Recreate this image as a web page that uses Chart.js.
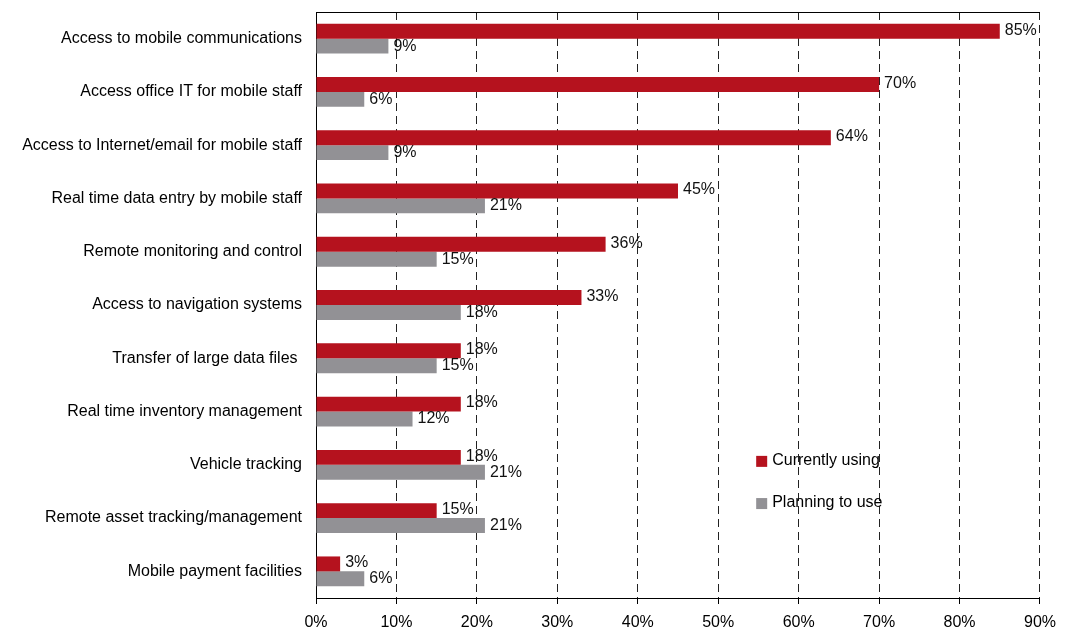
<!DOCTYPE html>
<html>
<head>
<meta charset="utf-8">
<script src="https://cdn.jsdelivr.net/npm/chart.js@4.4.0/dist/chart.umd.min.js"></script>
<style>
  html, body { margin: 0; padding: 0; background: #fff; }
  canvas { display: block; }
</style>
</head>
<body>
<canvas id="myChart" width="1065" height="632"></canvas>
<script>
// Categories, top to bottom
const categories = [
    'Access to mobile communications',
    'Access office IT for mobile staff',
    'Access to Internet/email for mobile staff',
    'Real time data entry by mobile staff',
    'Remote monitoring and control',
    'Access to navigation systems',
    'Transfer of large data files ',
    'Real time inventory management',
    'Vehicle tracking',
    'Remote asset tracking/management',
    'Mobile payment facilities'
];

// Percent of respondents
const currentlyUsing = [85, 70, 64, 45, 36, 33, 18, 18, 18, 15, 3];
const planningToUse = [9, 6, 9, 21, 15, 18, 15, 12, 21, 21, 6];

// X axis ticks
const xTicks = [0, 10, 20, 30, 40, 50, 60, 70, 80, 90];

const RED = '#B5121E';
const GREY = '#929195';
const FONT = 'Liberation Sans, Arial, sans-serif';
const SIZE = 16;

Chart.defaults.font.family = FONT;
Chart.defaults.font.size = SIZE;
Chart.defaults.color = '#000';

// Value labels at the end of each bar
const valueLabels = {
    id: 'valueLabels',
    afterDatasetsDraw(chart) {
        const ctx = chart.ctx;
        ctx.save();
        ctx.font = SIZE + 'px ' + FONT;
        ctx.fillStyle = '#111';
        ctx.textAlign = 'left';
        ctx.textBaseline = 'middle';
        chart.data.datasets.forEach((ds, i) => {
            chart.getDatasetMeta(i).data.forEach((bar, j) => {
                ctx.fillText(ds.data[j] + '%', bar.x + 5, bar.y - (i === 0 ? 1 : 0));
            });
        });
        ctx.restore();
    }
};

// Top frame line and the legend inside the plot
const frameAndLegend = {
    id: 'frameAndLegend',
    afterDraw(chart) {
        const ctx = chart.ctx;
        const a = chart.chartArea;
        ctx.save();
        ctx.strokeStyle = '#000';
        ctx.lineWidth = 1;
        ctx.beginPath();
        ctx.moveTo(a.left, Math.round(a.top) + 0.5);
        ctx.lineTo(a.right, Math.round(a.top) + 0.5);
        ctx.stroke();

        const lx = a.left + (a.right - a.left) * 0.608;
        const rows = [
            { text: 'Currently using', color: RED, y: a.top + (a.bottom - a.top) * 0.766 },
            { text: 'Planning to use', color: GREY, y: a.top + (a.bottom - a.top) * 0.838 }
        ];
        ctx.font = SIZE + 'px ' + FONT;
        ctx.textBaseline = 'middle';
        ctx.textAlign = 'left';
        rows.forEach(r => {
            ctx.fillStyle = r.color;
            ctx.fillRect(lx, r.y - 5, 11, 11);
            ctx.fillStyle = '#000';
            ctx.fillText(r.text, lx + 16, r.y);
        });
        ctx.restore();
    }
};

const ctx = document.getElementById('myChart').getContext('2d');

const myChart = new Chart(ctx, {
    type: 'bar',
    data: {
        labels: categories,
        datasets: [{
            label: 'Currently using',
            data: currentlyUsing,
            backgroundColor: RED,
            categoryPercentage: 0.56,
            barPercentage: 1.0
        }, {
            label: 'Planning to use',
            data: planningToUse,
            backgroundColor: GREY,
            categoryPercentage: 0.56,
            barPercentage: 1.0
        }]
    },
    options: {
        indexAxis: 'y',
        responsive: false,
        animation: false,
        layout: { padding: { top: 12, right: 24, left: 0, bottom: 0 } },
        plugins: {
            legend: { display: false },
            tooltip: { enabled: false }
        },
        scales: {
            x: {
                min: 0,
                max: 90,
                afterBuildTicks: (scale) => { scale.ticks = xTicks.map(v => ({ value: v })); },
                afterFit: (scale) => { scale.height = 34; },
                ticks: {
                    padding: 9,
                    color: '#000',
                    font: { size: SIZE },
                    callback: (v) => v + '%'
                },
                grid: {
                    color: '#222',
                    lineWidth: 1,
                    drawTicks: true,
                    tickLength: 6,
                    tickColor: '#000',
                    tickBorderDash: []
                },
                border: { display: true, color: '#000', width: 1, dash: [8, 5] }
            },
            y: {
                afterFit: (scale) => {
                    scale.width = 316;
                    scale.paddingTop = 0;
                    scale.paddingBottom = 0;
                },
                ticks: {
                    padding: 14,
                    color: '#000',
                    font: { size: SIZE }
                },
                grid: { display: false, drawTicks: false },
                border: { display: true, color: '#000', width: 1 }
            }
        }
    },
    plugins: [valueLabels, frameAndLegend]
});
</script>
</body>
</html>
